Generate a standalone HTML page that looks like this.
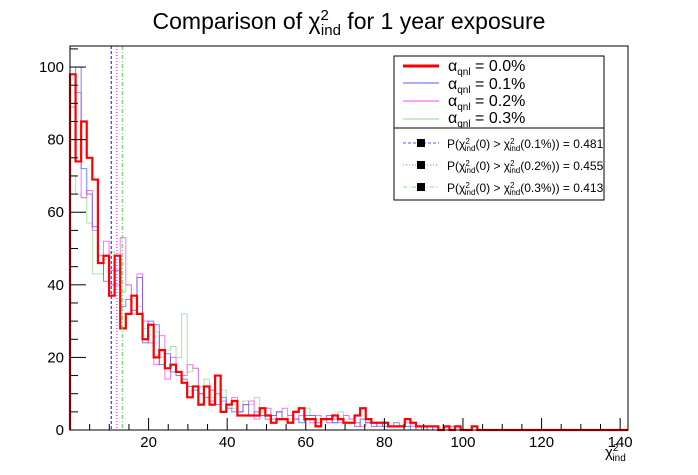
<!DOCTYPE html>
<html><head><meta charset="utf-8">
<style>
html,body{margin:0;padding:0;background:#fff;}
svg{display:block;font-family:"Liberation Sans",Arial,sans-serif;}
</style></head>
<body>
<svg id="chart" width="698" height="475" viewBox="0 0 698 475">
  <text x="349" y="29" text-anchor="middle" font-size="23" fill="#000">Comparison of χ<tspan dy="-9" font-size="15">2</tspan><tspan dy="15" dx="-8" font-size="15">ind</tspan><tspan dy="-6"> for 1 year exposure</tspan></text>
  <g id="hists"></g>
  <g id="vlines"></g>
  <g id="axes"></g>
  <text x="605" y="457" font-size="15">χ<tspan dy="-6" font-size="10">2</tspan><tspan dy="10" dx="-6" font-size="10">ind</tspan></text>

  <g>
    <rect x="394" y="56" width="210" height="72" fill="#fff" stroke="#000" stroke-width="1"/>
    <g><line x1="403" y1="66" x2="439" y2="66" stroke="#ff0000" stroke-width="3"/><text x="448" y="71" font-size="16">α<tspan dy="4" font-size="10">qnl</tspan><tspan dy="-4"> = 0.0%</tspan></text></g>
    <g><line x1="403" y1="83" x2="439" y2="83" stroke="#5555ff" stroke-width="1"/><text x="448" y="89" font-size="16">α<tspan dy="4" font-size="10">qnl</tspan><tspan dy="-4"> = 0.1%</tspan></text></g>
    <g><line x1="403" y1="101" x2="439" y2="101" stroke="#ff44ff" stroke-width="1"/><text x="448" y="106" font-size="16">α<tspan dy="4" font-size="10">qnl</tspan><tspan dy="-4"> = 0.2%</tspan></text></g>
    <g><line x1="403" y1="119" x2="439" y2="119" stroke="#88dd88" stroke-width="1"/><text x="448" y="123" font-size="16">α<tspan dy="4" font-size="10">qnl</tspan><tspan dy="-4"> = 0.3%</tspan></text></g>
  </g>
  <g>
    <rect x="394" y="128" width="210" height="72" fill="#fff" stroke="#000" stroke-width="1"/>
    <g><line x1="403" y1="143" x2="439" y2="143" stroke="#5555ff" stroke-dasharray="3,2"/><rect x="417" y="139" width="8" height="8" fill="#000"/><text x="447" y="148" font-size="12">P(χ<tspan dy="-4" font-size="8">2</tspan><tspan dy="7" dx="-5" font-size="8">ind</tspan><tspan dy="-3">(0) &gt; χ</tspan><tspan dy="-4" font-size="8">2</tspan><tspan dy="7" dx="-5" font-size="8">ind</tspan><tspan dy="-3">(0.1%)) = 0.481</tspan></text></g>
    <g><line x1="403" y1="165" x2="439" y2="165" stroke="#ff44ff" stroke-dasharray="1,2"/><rect x="417" y="161" width="8" height="8" fill="#000"/><text x="447" y="170" font-size="12">P(χ<tspan dy="-4" font-size="8">2</tspan><tspan dy="7" dx="-5" font-size="8">ind</tspan><tspan dy="-3">(0) &gt; χ</tspan><tspan dy="-4" font-size="8">2</tspan><tspan dy="7" dx="-5" font-size="8">ind</tspan><tspan dy="-3">(0.2%)) = 0.455</tspan></text></g>
    <g><line x1="403" y1="187" x2="439" y2="187" stroke="#88dd88" stroke-dasharray="4,2,1,2"/><rect x="417" y="183" width="8" height="8" fill="#000"/><text x="447" y="192" font-size="12">P(χ<tspan dy="-4" font-size="8">2</tspan><tspan dy="7" dx="-5" font-size="8">ind</tspan><tspan dy="-3">(0) &gt; χ</tspan><tspan dy="-4" font-size="8">2</tspan><tspan dy="7" dx="-5" font-size="8">ind</tspan><tspan dy="-3">(0.3%)) = 0.413</tspan></text></g>
  </g>
</svg>
<script>
const binWidth = 1.42;
const red = [98,74,85,75,69,46,48,37,48,28,32,37,32,25,29,20,22,17,18,16,13,9,12,7,12,7,15,5,7,8,4,4,4,4,6,4,2,3,3,2,5,6,3,3,1,3,3,4,3,2,2,4,6,3,2,2,2,1,1,1,3,2,1,1,1,1,0,1,0,1,0,0,1,0,0,0,0,0,0,0,0,0,0,0,0,0,0,0,0,0,0,0,0,0,0,0,0,0,0,0];
const blue = [80,100,72,65,56,48,41,40,44,34,36,33,42,24,30,29,18,21,16,15,14,12,11,10,9,11,7,9,6,5,5,7,4,5,4,3,4,5,3,2,3,2,4,4,2,3,4,2,3,2,2,1,3,2,1,2,1,1,2,1,1,0,1,1,0,1,0,0,1,0,0,0,0,0,0,0,0,0,0,0,0,0,0,0,0,0,0,0,0,0,0,0,0,0,0,0,0,0,0,0];
const pink = [89,93,64,66,55,46,52,44,40,53,40,32,43,30,24,18,26,14,20,16,15,18,17,10,12,8,10,8,7,9,5,7,8,3,4,6,3,5,6,4,3,4,3,2,4,3,2,3,2,4,3,2,1,2,2,1,2,1,1,1,2,1,0,1,0,1,0,0,0,1,0,0,0,0,0,0,0,0,0,0,0,0,0,0,0,0,0,0,0,0,0,0,0,0,0,0,0,0,0,0];
const green = [70,65,64,57,43,43,47,49,44,38,40,33,34,28,24,27,20,22,23,20,32,16,17,12,14,9,10,11,7,6,5,8,7,9,5,6,4,5,3,4,3,6,6,4,3,3,2,2,5,4,3,2,3,2,2,1,2,1,1,1,1,2,1,0,1,0,0,1,0,0,0,0,0,0,0,0,0,0,0,0,0,0,0,0,0,0,0,0,0,0,0,0,0,0,0,0,0,0,0,0];
const thresholds = [10.5, 11.9, 13.3];
const xTicks = [20,40,60,80,100,120,140];
const yTicks = [0,20,40,60,80,100];

const X0=70, X1=628, Y0=430, Y1=46, XMAX=142, YMAX=105.8;
const sx = v => X0 + v/XMAX*(X1-X0);
const sy = v => Y0 - v/YMAX*(Y0-Y1);
const NS='http://www.w3.org/2000/svg';
function mk(tag, attrs, parent){const e=document.createElementNS(NS,tag);for(const k in attrs)e.setAttribute(k,attrs[k]);parent.appendChild(e);return e;}

const hg=document.getElementById('hists');
const series=[[green,'#88dd88',1,'hist-alpha-0.3'],[pink,'#ff44ff',1,'hist-alpha-0.2'],[blue,'#5555ff',1,'hist-alpha-0.1'],[red,'#ff0000',2.2,'hist-alpha-0.0']];
series.forEach(([vals,col,w,name])=>{
  let d='M'+sx(0)+','+sy(0);
  vals.forEach((v,i)=>{d+=' L'+sx(i*binWidth)+','+sy(v)+' L'+sx((i+1)*binWidth)+','+sy(v);});
  d+=' L'+sx(vals.length*binWidth)+','+sy(0);
  const p=mk('path',{d:d,fill:'none',stroke:col,'stroke-width':w,'stroke-opacity':w>2?1:0.75},hg);
  
  
});

const vg=document.getElementById('vlines');
const vstyles=[['#3333ff','3,2'],['#ff33ff','1,2'],['#66dd66','4,2,1,2']];
thresholds.forEach((t,i)=>{
  const l=mk('line',{x1:sx(t),x2:sx(t),y1:Y1,y2:Y0,stroke:vstyles[i][0],'stroke-dasharray':vstyles[i][1],'stroke-width':1.2},vg);
  
  
});

const ag=document.getElementById('axes');
const fr=mk('rect',{x:X0,y:Y1,width:X1-X0,height:Y0-Y1,fill:'none',stroke:'#000','stroke-width':1},ag);


for(let v=0;v<=YMAX;v+=5){
  const major=v%20===0;
  mk('line',{x1:X0,x2:X0+(major?16:8),y1:sy(v),y2:sy(v),stroke:'#000','stroke-width':1},ag);
}
for(let v=5;v<=XMAX;v+=5){
  const major=v%20===0;
  mk('line',{x1:sx(v),x2:sx(v),y1:Y0,y2:Y0-(major?12:6),stroke:'#000','stroke-width':1},ag);
}
yTicks.forEach(v=>{
  const t=mk('text',{x:X0-6,y:sy(v)+5,'text-anchor':'end','font-size':15},ag);
  t.textContent=v;
  
  
});
xTicks.forEach(v=>{
  const t=mk('text',{x:sx(v),y:Y0+17,'text-anchor':'middle','font-size':15},ag);
  t.textContent=v;
  
  
});
</script>
</body></html>
